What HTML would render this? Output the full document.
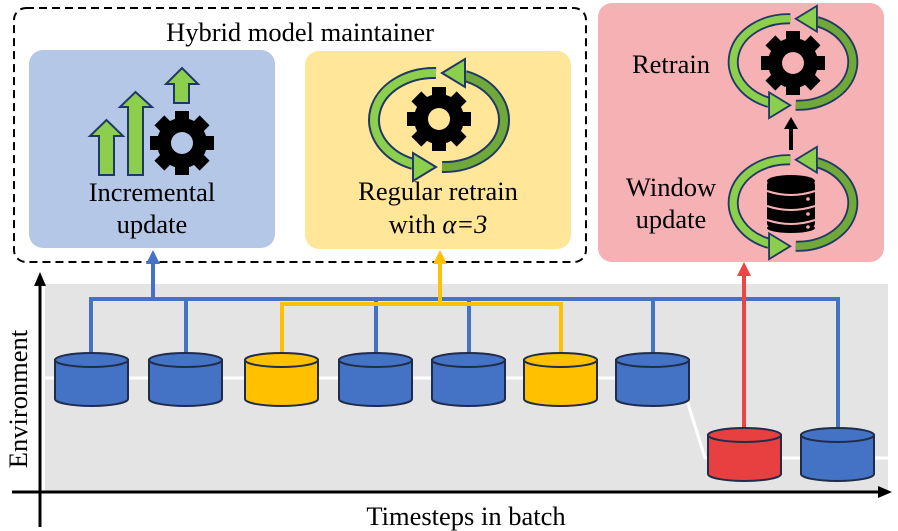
<!DOCTYPE html>
<html><head><meta charset="utf-8"><style>
html,body{margin:0;padding:0;background:#fff;}
svg{display:block;}
text{font-family:"Liberation Serif",serif;fill:#000;}
</style></head><body>
<svg width="898" height="531" viewBox="0 0 898 531" xmlns="http://www.w3.org/2000/svg">
<defs>
  <g id="gear">
    <circle r="25" fill="#000"/>
    <rect x="-7" y="-32" width="14" height="64" fill="#000"/>
    <rect x="-7" y="-32" width="14" height="64" fill="#000" transform="rotate(45)"/>
    <rect x="-7" y="-32" width="14" height="64" fill="#000" transform="rotate(90)"/>
    <rect x="-7" y="-32" width="14" height="64" fill="#000" transform="rotate(135)"/>
  </g>
  <g id="cyc">
    <path d="M -3,-47 A 60 47 0 0 0 -26,44" fill="none" stroke="#1f3864" stroke-width="12"/>
    <path d="M -3,-47 A 60 47 0 0 0 -26,44" fill="none" stroke="#8ccf4d" stroke-width="8"/>
    <polygon points="-3,47 -26,33 -26,61" fill="#8ccf4d" stroke="#1f3864" stroke-width="2"/>
    <path d="M 3,47 A 60 47 0 0 0 26,-44" fill="none" stroke="#1f3864" stroke-width="12"/>
    <path d="M 3,47 A 60 47 0 0 0 26,-44" fill="none" stroke="#70a83a" stroke-width="8"/>
    <polygon points="3,-47 26,-33 26,-61" fill="#8ccf4d" stroke="#1f3864" stroke-width="2"/>
  </g>
</defs>

<!-- dashed box -->
<rect x="14" y="8" width="572" height="254" rx="12" fill="none" stroke="#000" stroke-width="2" stroke-dasharray="8,5"/>
<text x="300" y="41" font-size="26.5" text-anchor="middle">Hybrid model maintainer</text>

<!-- blue box -->
<rect x="29" y="50" width="246" height="198" rx="14" fill="#b4c7e7"/>
<polygon points="99,175 114,175 114,136 123,136 106.5,120 90,136 99,136" fill="#8ccf4d" stroke="#1f3864" stroke-width="2"/>
<polygon points="128,175 143,175 143,107 152,107 135.5,92 120,107 128,107" fill="#8ccf4d" stroke="#1f3864" stroke-width="2"/>
<polygon points="174,103 189,103 189,84 198,84 182,68 166,84 174,84" fill="#8ccf4d" stroke="#1f3864" stroke-width="2"/>
<use href="#gear" x="182" y="143"/>
<circle cx="182" cy="143" r="11" fill="#b4c7e7"/>
<text x="152" y="201" font-size="26.5" text-anchor="middle">Incremental</text>
<text x="152" y="233" font-size="26.5" text-anchor="middle">update</text>

<!-- yellow box -->
<rect x="305" y="51" width="266" height="198" rx="14" fill="#ffe699"/>
<use href="#cyc" x="439" y="120"/>
<use href="#gear" x="439" y="119"/>
<circle cx="439" cy="119" r="11" fill="#ffe699"/>
<text x="438" y="200" font-size="26.5" text-anchor="middle">Regular retrain</text>
<text x="438" y="233" font-size="26.5" text-anchor="middle">with <tspan font-style="italic">α=3</tspan></text>

<!-- pink box -->
<rect x="598" y="3" width="286" height="259" rx="14" fill="#f5b1b4"/>
<g transform="translate(793,62) scale(0.92)"><use href="#cyc"/></g>
<use href="#gear" x="793" y="63"/>
<circle cx="793" cy="63" r="11" fill="#f5b1b4"/>
<text x="671" y="73" font-size="26.5" text-anchor="middle">Retrain</text>
<line x1="791" y1="150" x2="791" y2="128" stroke="#000" stroke-width="4"/>
<polygon points="791,117 784,129 798,129" fill="#000"/>
<g transform="translate(793,203) scale(0.92)"><use href="#cyc"/></g>
<!-- database -->
<g>
  <rect x="767" y="180" width="48" height="48" rx="5" fill="#000"/>
  <ellipse cx="791" cy="181" rx="24" ry="6" fill="#000"/>
  <ellipse cx="791" cy="228" rx="24" ry="5" fill="#000"/>
  <path d="M767,191 Q791,199 815,191" fill="none" stroke="#f5b1b4" stroke-width="2"/>
  <path d="M767,206 Q791,214 815,206" fill="none" stroke="#f5b1b4" stroke-width="2"/>
  <path d="M767,220 Q791,228 815,220" fill="none" stroke="#f5b1b4" stroke-width="2"/>
  <circle cx="808" cy="199" r="1.8" fill="#f5b1b4"/>
  <circle cx="808" cy="214" r="1.8" fill="#f5b1b4"/>
  <circle cx="808" cy="227" r="1.8" fill="#f5b1b4"/>
</g>
<text x="671" y="196" font-size="26.5" text-anchor="middle">Window</text>
<text x="671" y="228" font-size="26.5" text-anchor="middle">update</text>

<!-- gray region -->
<rect x="45" y="284" width="843" height="208" fill="#e4e4e4"/>
<polyline points="45,378 680,378 705,458 888,458" fill="none" stroke="#fff" stroke-width="3"/>

<!-- buses -->
<g stroke="#4472c4" stroke-width="4" fill="none">
  <line x1="153" y1="299" x2="153" y2="262"/>
  <polyline points="91,353 91,299 838,299 838,428"/>
  <line x1="186" y1="299" x2="186" y2="353"/>
  <line x1="376" y1="299" x2="376" y2="353"/>
  <line x1="469" y1="299" x2="469" y2="353"/>
  <line x1="653" y1="299" x2="653" y2="353"/>
</g>
<polygon points="153,250 146,264 160,264" fill="#4472c4"/>
<g stroke="#ffc000" stroke-width="4" fill="none">
  <line x1="440" y1="304" x2="440" y2="262"/>
  <polyline points="282,353 282,304 561,304 561,353"/>
</g>
<polygon points="440,250 433,264 447,264" fill="#ffc000"/>
<line x1="744" y1="428" x2="744" y2="275" stroke="#ee4444" stroke-width="4"/>
<polygon points="744,262 737,276 751,276" fill="#ee4444"/>

<!-- cylinders -->
<g stroke="#1f2d4a" stroke-width="2">
  <g fill="#4472c4"><path d="M55,360 L55,399 A36.5 7 0 0 0 128,399 L128,360 Z"/><ellipse cx="91.5" cy="360" rx="36.5" ry="7"/></g>
  <g fill="#4472c4"><path d="M149,360 L149,399 A36.5 7 0 0 0 222,399 L222,360 Z"/><ellipse cx="185.5" cy="360" rx="36.5" ry="7"/></g>
  <g fill="#ffc000"><path d="M245,360 L245,399 A36.5 7 0 0 0 318,399 L318,360 Z"/><ellipse cx="281.5" cy="360" rx="36.5" ry="7"/></g>
  <g fill="#4472c4"><path d="M339,360 L339,399 A36.5 7 0 0 0 412,399 L412,360 Z"/><ellipse cx="375.5" cy="360" rx="36.5" ry="7"/></g>
  <g fill="#4472c4"><path d="M432,360 L432,399 A36.5 7 0 0 0 505,399 L505,360 Z"/><ellipse cx="468.5" cy="360" rx="36.5" ry="7"/></g>
  <g fill="#ffc000"><path d="M524,360 L524,399 A36.5 7 0 0 0 597,399 L597,360 Z"/><ellipse cx="560.5" cy="360" rx="36.5" ry="7"/></g>
  <g fill="#4472c4"><path d="M616,360 L616,399 A36.5 7 0 0 0 689,399 L689,360 Z"/><ellipse cx="652.5" cy="360" rx="36.5" ry="7"/></g>
  <g fill="#e84040"><path d="M708,435 L708,474 A36.5 7 0 0 0 781,474 L781,435 Z"/><ellipse cx="744.5" cy="435" rx="36.5" ry="7"/></g>
  <g fill="#4472c4"><path d="M801,435 L801,474 A36.5 7 0 0 0 874,474 L874,435 Z"/><ellipse cx="837.5" cy="435" rx="36.5" ry="7"/></g>
</g>

<!-- axes -->
<line x1="40" y1="527" x2="40" y2="284" stroke="#000" stroke-width="3"/>
<polygon points="40,272 34,286 46,286" fill="#000"/>
<line x1="12" y1="492" x2="880" y2="492" stroke="#000" stroke-width="3"/>
<polygon points="892,492 878,486 878,498" fill="#000"/>
<text x="466" y="525" font-size="26.5" text-anchor="middle">Timesteps in batch</text>
<text x="0" y="0" font-size="26.5" text-anchor="middle" transform="translate(27,399) rotate(-90)">Environment</text>
</svg>
</body></html>
